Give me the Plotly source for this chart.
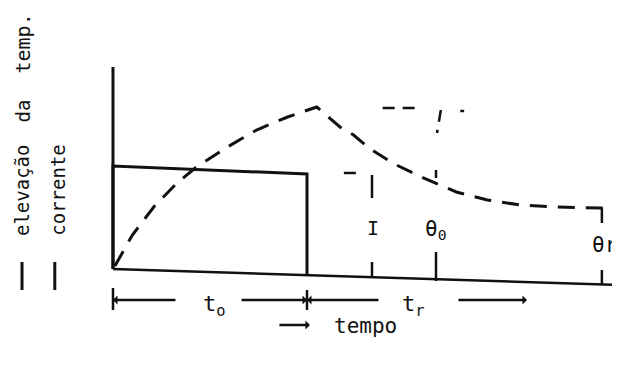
import plotly.graph_objects as go

# ---- data (time in units of t_o, value in units of current level) ----
curve_t = [0.01, 0.10, 0.21, 0.33, 0.43, 0.59, 0.74, 0.90, 1.05, 1.17, 1.24, 1.32,
           1.44, 1.60, 1.77, 1.93, 2.10, 2.29, 2.51, 2.62]
curve_v = [0.04, 0.35, 0.63, 0.87, 1.03, 1.23, 1.40, 1.53, 1.63, 1.43, 1.35, 1.22,
           1.07, 0.92, 0.78, 0.70, 0.65, 0.63, 0.62, 0.62]

current_t = [0.0, 0.0, 1.0, 1.0]
current_v = [0.01, 1.04, 0.96, -0.05]

base_t = [0.0, 1.0, 2.62]
base_v = [0.01, -0.05, -0.15]

axis_t = [0.0, 0.0]
axis_v = [0.01, 2.03]

# marker positions (time) and labels
mark_I_t = 1.335
mark_th0_t = 1.665
mark_thr_t = 2.52
to_end = 1.0

FONT = "DejaVu Sans Mono"
BLACK = "#111111"

fig = go.Figure()

fig.add_trace(go.Scatter(x=axis_t, y=axis_v, mode="lines",
                         line=dict(color=BLACK, width=3), hoverinfo="skip"))
fig.add_trace(go.Scatter(x=current_t, y=current_v, mode="lines",
                         line=dict(color=BLACK, width=3), hoverinfo="skip"))
fig.add_trace(go.Scatter(x=base_t, y=base_v, mode="lines",
                         line=dict(color=BLACK, width=2.5), hoverinfo="skip"))
fig.add_trace(go.Scatter(x=curve_t, y=curve_v, mode="lines",
                         line=dict(color=BLACK, width=3, dash="17px,11px"),
                         hoverinfo="skip"))

# auxiliary dashed reference strokes
aux = [
    ([1.39, 1.57], [1.62, 1.62]),
    ([1.69, 1.67], [1.60, 1.37]),
    ([1.79, 1.81], [1.59, 1.59]),
    ([1.19, 1.27], [0.97, 0.97]),
]
for xs, ys in aux:
    fig.add_trace(go.Scatter(x=xs, y=ys, mode="lines",
                             line=dict(color=BLACK, width=2.5, dash="12px,8px"),
                             hoverinfo="skip"))

# vertical measurement ticks
ticks = [
    (mark_I_t, [0.95, 0.72]), (mark_I_t, [0.08, -0.08]),
    (mark_th0_t, [0.18, -0.11]), (mark_th0_t, [1.00, 0.92]),
    (mark_thr_t, [0.62, 0.47]), (mark_thr_t, [0.00, -0.15]),
    (0.0, [-0.18, -0.40]), (to_end, [-0.20, -0.40]),
]
for tx, ys in ticks:
    fig.add_trace(go.Scatter(x=[tx, tx], y=ys, mode="lines",
                             line=dict(color=BLACK, width=2.5), hoverinfo="skip"))

# bottom time arrows
row_v = -0.30
arrows = [
    (0.0, 0.33),      # head at left
    (to_end, 0.655),  # head at right (t_o end)
    (to_end, 1.376),  # head at left (t_r start)
    (2.134, 1.773),   # head at right
    (1.015, 0.85),    # tempo arrow
]
arrow_rows = [row_v, row_v, row_v, row_v, -0.55]
for (head, tail), yv in zip(arrows, arrow_rows):
    fig.add_annotation(x=head, y=yv, ax=tail, ay=yv, xref="x", yref="y",
                       axref="x", ayref="y", showarrow=True, arrowhead=1,
                       arrowsize=0.6, arrowwidth=2.5, arrowcolor=BLACK, text="")

labels = [
    (0.525, -0.35, "t<sub>o</sub>", 22),
    (1.55, -0.35, "t<sub>r</sub>", 22),
    (1.30, -0.56, "tempo", 21),
    (1.34, 0.42, "I", 20),
    (1.665, 0.40, "θ<sub>0</sub>", 21),
    (2.535, 0.25, "θr", 21),
]
for x, y, s, fs in labels:
    fig.add_annotation(x=x, y=y, xref="x", yref="y", text=s, showarrow=False,
                       font=dict(family=FONT, size=fs, color=BLACK))

# rotated axis labels (left)
rot = [
    (-0.469, 0.80, "elevação", 19),
    (-0.469, 1.585, "da", 19),
    (-0.469, 2.265, "temp.", 20),
    (-0.285, 0.80, "corrente", 19),
]
for x, y, s, fs in rot:
    fig.add_annotation(x=x, y=y, xref="x", yref="y", text=s, showarrow=False,
                       textangle=-90, font=dict(family=FONT, size=fs, color=BLACK))

# legend line samples below the labels
for lx in [-0.469, -0.300]:
    fig.add_trace(go.Scatter(x=[lx, lx], y=[0.08, -0.20], mode="lines",
                             line=dict(color=BLACK, width=3), hoverinfo="skip"))

# page body has an 8px margin: figure sized to fit the window, ranges compensate
fig.update_layout(
    width=612, height=364, showlegend=False,
    margin=dict(l=0, r=0, t=0, b=0),
    paper_bgcolor="white", plot_bgcolor="white",
    xaxis=dict(range=[-0.5412, 2.6134], visible=False, fixedrange=True),
    yaxis=dict(range=[-1.02, 2.62], visible=False, fixedrange=True),
)

fig.write_html("out.html")
